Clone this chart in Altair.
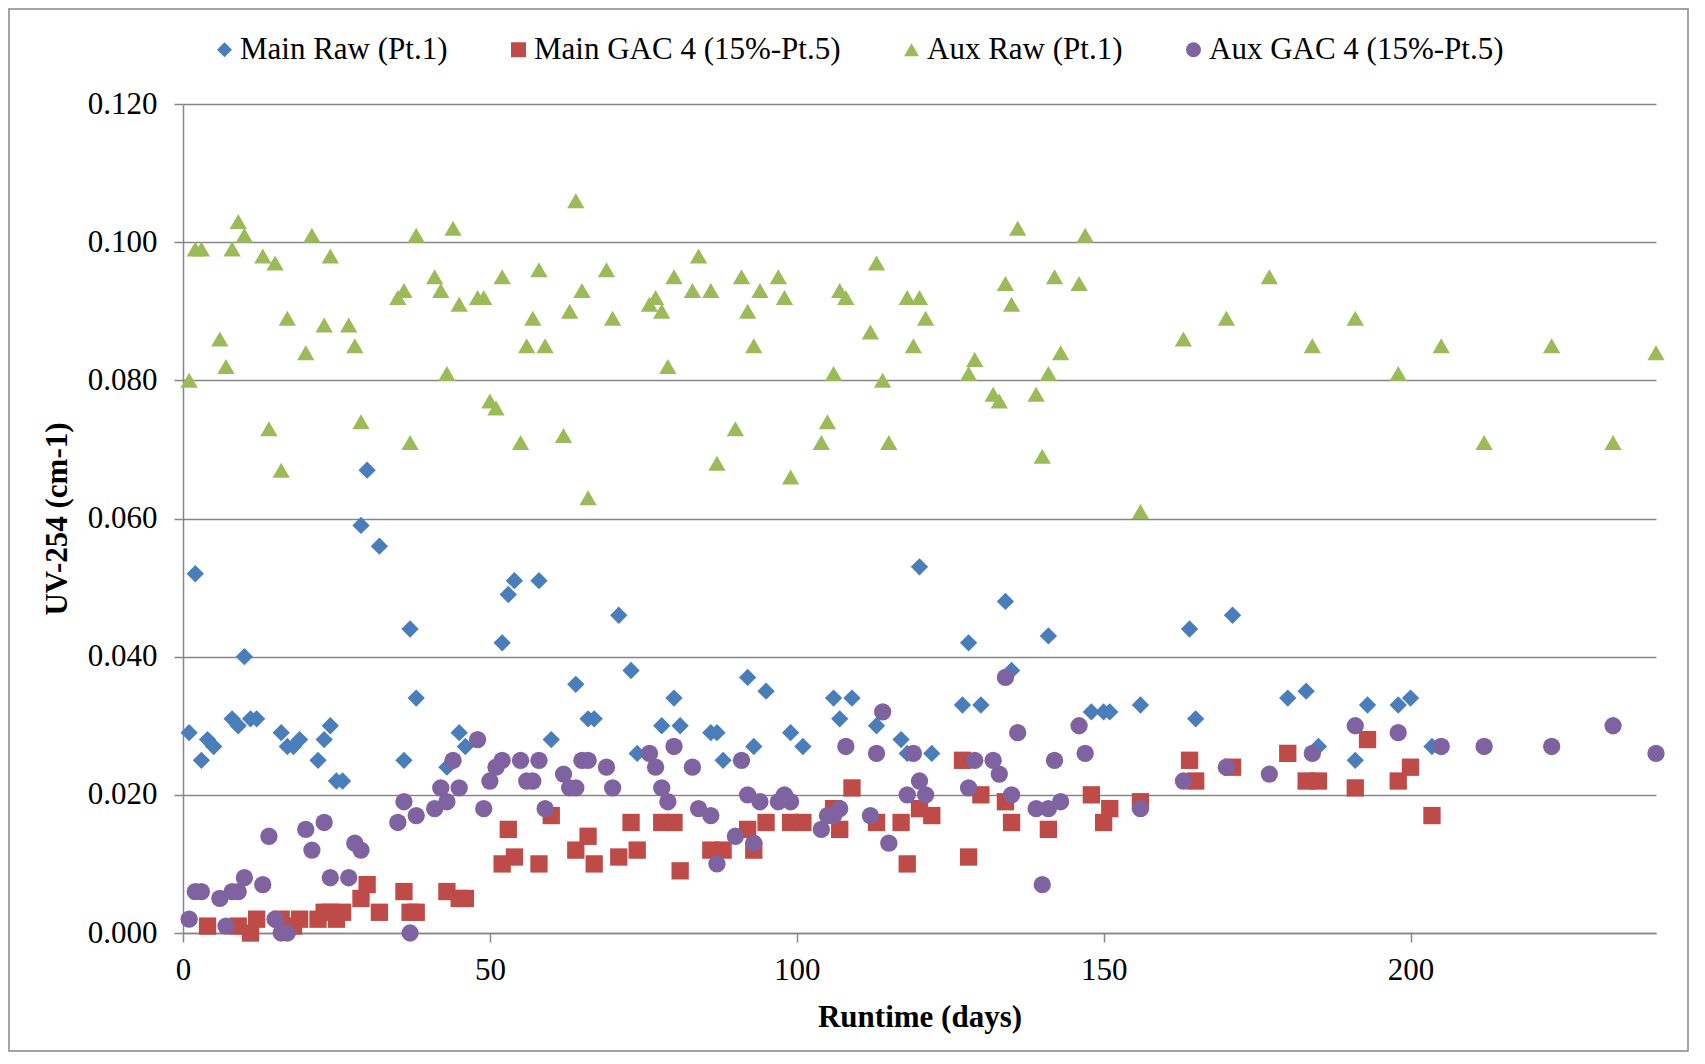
import altair as alt
import pandas as pd

series_names = ["Main Raw (Pt.1)", "Main GAC 4 (15%-Pt.5)", "Aux Raw (Pt.1)", "Aux GAC 4 (15%-Pt.5)"]
series_colors = ["#4A7EBB", "#BE4B48", "#9BBB59", "#7F63A1"]
series_shapes = ["diamond", "square", "triangle-up", "circle"]

main_raw_days = [1, 2, 3, 4, 5, 8, 9, 10, 11, 12, 16, 17, 18, 19, 22, 23, 24, 25, 26, 29, 30, 32, 36, 37, 38,
                 43, 45, 46, 52, 53, 54, 58, 60, 64, 66, 67, 71, 73, 74, 78, 80, 81, 86, 87, 88, 92, 93, 95,
                 99, 101, 106, 107, 109, 113, 117, 118, 120, 122, 127, 128, 130, 134, 135, 141, 148, 150, 151,
                 156, 164, 165, 171, 180, 183, 185, 191, 193, 198, 200, 203.5]
main_raw_uv = [0.029, 0.052, 0.025, 0.028, 0.027, 0.031, 0.030, 0.040, 0.031, 0.031, 0.029, 0.027, 0.027, 0.028,
               0.025, 0.028, 0.030, 0.022, 0.022, 0.059, 0.067, 0.056, 0.025, 0.044, 0.034, 0.024, 0.029, 0.027,
               0.042, 0.049, 0.051, 0.051, 0.028, 0.036, 0.031, 0.031, 0.046, 0.038, 0.026, 0.030, 0.034, 0.030,
               0.029, 0.029, 0.025, 0.037, 0.027, 0.035, 0.029, 0.027, 0.034, 0.031, 0.034, 0.030, 0.028, 0.026,
               0.053, 0.026, 0.033, 0.042, 0.033, 0.048, 0.038, 0.043, 0.032, 0.032, 0.032, 0.033, 0.044, 0.031,
               0.046, 0.034, 0.035, 0.027, 0.025, 0.033, 0.033, 0.034, 0.027]

main_gac_days = [4, 9, 11, 12, 16, 18, 19, 22, 23, 24, 25, 26, 29, 30, 32, 36, 37, 38, 43, 45, 46, 52, 53, 54,
                 58, 60, 64, 66, 67, 71, 73, 74, 78, 80, 81, 86, 88, 92, 93, 95, 99, 101, 106, 107, 109, 113,
                 117, 118, 120, 122, 127, 128, 130, 134, 135, 141, 148, 150, 151, 156, 164, 165, 171, 180, 183,
                 185, 191, 193, 198, 200, 203.5]
main_gac_uv = [0.001, 0.001, 0.000, 0.002, 0.002, 0.001, 0.002, 0.002, 0.003, 0.003, 0.002, 0.003, 0.005, 0.007,
               0.003, 0.006, 0.003, 0.003, 0.006, 0.005, 0.005, 0.010, 0.015, 0.011, 0.010, 0.017, 0.012, 0.014,
               0.010, 0.011, 0.016, 0.012, 0.016, 0.016, 0.009, 0.012, 0.012, 0.015, 0.012, 0.016, 0.016, 0.016,
               0.018, 0.015, 0.021, 0.016, 0.016, 0.010, 0.018, 0.017, 0.025, 0.011, 0.020, 0.019, 0.016, 0.015,
               0.020, 0.016, 0.018, 0.019, 0.025, 0.022, 0.024, 0.026, 0.022, 0.022, 0.021, 0.028, 0.022, 0.024,
               0.017]

aux_raw_days = [1, 2, 3, 6, 7, 8, 9, 10, 13, 14, 15, 16, 17, 20, 21, 23, 24, 27, 28, 29, 35, 36, 37, 38, 41, 42,
                43, 44, 45, 48, 49, 50, 51, 52, 55, 56, 57, 58, 59, 62, 63, 64, 65, 66, 69, 70, 76, 77, 78, 79,
                80, 83, 84, 86, 87, 90, 91, 92, 93, 94, 97, 98, 99, 104, 105, 106, 107, 108, 112, 113, 114, 115,
                118, 119, 120, 121, 128, 129, 132, 133, 134, 135, 136, 139, 140, 141, 142, 143, 146, 147, 156,
                163, 170, 177, 184, 191, 198, 205, 212, 223, 233, 240]
aux_raw_uv = [0.080, 0.099, 0.099, 0.086, 0.082, 0.099, 0.103, 0.101, 0.098, 0.073, 0.097, 0.067, 0.089, 0.084,
              0.101, 0.088, 0.098, 0.088, 0.085, 0.074, 0.092, 0.093, 0.071, 0.101, 0.095, 0.093, 0.081, 0.102,
              0.091, 0.092, 0.092, 0.077, 0.076, 0.095, 0.071, 0.085, 0.089, 0.096, 0.085, 0.072, 0.090, 0.106,
              0.093, 0.063, 0.096, 0.089, 0.091, 0.092, 0.090, 0.082, 0.095, 0.093, 0.098, 0.093, 0.068, 0.073,
              0.095, 0.090, 0.085, 0.093, 0.095, 0.092, 0.066, 0.071, 0.074, 0.081, 0.093, 0.092, 0.087, 0.097,
              0.080, 0.071, 0.092, 0.085, 0.092, 0.089, 0.081, 0.083, 0.078, 0.077, 0.094, 0.091, 0.102, 0.078,
              0.069, 0.081, 0.095, 0.084, 0.094, 0.101, 0.061, 0.086, 0.089, 0.095, 0.085, 0.089, 0.081, 0.085,
              0.071, 0.085, 0.071, 0.084]

aux_gac_days = [1, 2, 3, 6, 7, 8, 9, 10, 13, 14, 15, 16, 17, 20, 21, 23, 24, 27, 28, 29, 35, 36, 37, 38, 41, 42,
                43, 44, 45, 48, 49, 50, 51, 52, 55, 56, 57, 58, 59, 62, 63, 64, 65, 66, 69, 70, 76, 77, 78, 79,
                80, 83, 84, 86, 87, 90, 91, 92, 93, 94, 97, 98, 99, 104, 105, 106, 107, 108, 112, 113, 114, 115,
                118, 119, 120, 121, 128, 129, 132, 133, 134, 135, 136, 139, 140, 141, 142, 143, 146, 147, 156,
                163, 170, 177, 184, 191, 198, 205, 212, 223, 233, 240]
aux_gac_uv = [0.002, 0.006, 0.006, 0.005, 0.001, 0.006, 0.006, 0.008, 0.007, 0.014, 0.002, 0.000, 0.000, 0.015,
              0.012, 0.016, 0.008, 0.008, 0.013, 0.012, 0.016, 0.019, 0.000, 0.017, 0.018, 0.021, 0.019, 0.025,
              0.021, 0.028, 0.018, 0.022, 0.024, 0.025, 0.025, 0.022, 0.022, 0.025, 0.018, 0.023, 0.021, 0.021,
              0.025, 0.025, 0.024, 0.021, 0.026, 0.024, 0.021, 0.019, 0.027, 0.024, 0.018, 0.017, 0.010, 0.014,
              0.025, 0.020, 0.013, 0.019, 0.019, 0.020, 0.019, 0.015, 0.017, 0.017, 0.018, 0.027, 0.017, 0.026,
              0.032, 0.013, 0.020, 0.026, 0.022, 0.020, 0.021, 0.025, 0.025, 0.023, 0.037, 0.020, 0.029, 0.018,
              0.007, 0.018, 0.025, 0.019, 0.030, 0.026, 0.018, 0.022, 0.024, 0.023, 0.026, 0.030, 0.029, 0.027,
              0.027, 0.027, 0.030, 0.026]

x_ticks = [0, 50, 100, 150, 200]
y_ticks = [0.0, 0.02, 0.04, 0.06, 0.08, 0.10, 0.12]

frames = []
for name, d, v in zip(series_names,
                      [main_raw_days, main_gac_days, aux_raw_days, aux_gac_days],
                      [main_raw_uv, main_gac_uv, aux_raw_uv, aux_gac_uv]):
    frames.append(pd.DataFrame({"Runtime": d, "UV": v, "Series": name}))
df = pd.concat(frames, ignore_index=True)
df["ord"] = range(len(df))

W, H = 1473, 829
FONT = "Liberation Serif"
GRAY = "#868686"

legend = alt.Legend(
    title=None, orient="none", legendX=26, legendY=-70, direction="horizontal",
    labelFont=FONT, labelFontSize=31, labelColor="black", symbolSize=225, labelLimit=600,
    columnPadding=55, labelOffset=0, symbolStrokeWidth=0,
)

points = alt.Chart(df).mark_point(filled=True, opacity=1, size=300, strokeWidth=0).encode(
    x=alt.X("Runtime:Q", scale=alt.Scale(domain=[0, 240], nice=False, zero=True),
            axis=alt.Axis(values=x_ticks, title="Runtime (days)", grid=False, labelFlush=False,
                          labelPadding=13, titleY=84, titleBaseline="middle")),
    y=alt.Y("UV:Q", scale=alt.Scale(domain=[0, 0.12], nice=False),
            axis=alt.Axis(values=y_ticks, format=".3f", title="UV-254 (cm-1)", grid=True,
                          labelPadding=17, titleX=-126, titleY=H / 2, titleAngle=270,
                          titleAlign="center", titleBaseline="middle")),
    color=alt.Color("Series:N", scale=alt.Scale(domain=series_names, range=series_colors), legend=legend),
    shape=alt.Shape("Series:N", scale=alt.Scale(domain=series_names, range=series_shapes), legend=legend),
    order=alt.Order("ord:Q"),
)

frame = alt.Chart(pd.DataFrame({"a": [0]})).mark_rect(
    fillOpacity=0, stroke=GRAY, strokeWidth=1.5
).encode(x=alt.value(-174), x2=alt.value(W + 32), y=alt.value(-95), y2=alt.value(H + 118))

chart = alt.layer(frame, points).properties(
    width=W, height=H,
    autosize=alt.AutoSizeParams(type="none"),
    padding={"left": 175, "top": 96, "right": 33, "bottom": 120},
    background="white",
).configure_view(strokeWidth=0).configure_axis(
    domainColor=GRAY, domainWidth=1.5, tickColor=GRAY, tickWidth=1.5, tickSize=9,
    gridColor=GRAY, gridWidth=1.5, labelFont=FONT, labelFontSize=31, labelColor="black",
    titleFont=FONT, titleFontSize=31, titleFontWeight="bold", titleColor="black",
)

chart.save("out.html", embed_options={"renderer": "svg", "actions": False})
